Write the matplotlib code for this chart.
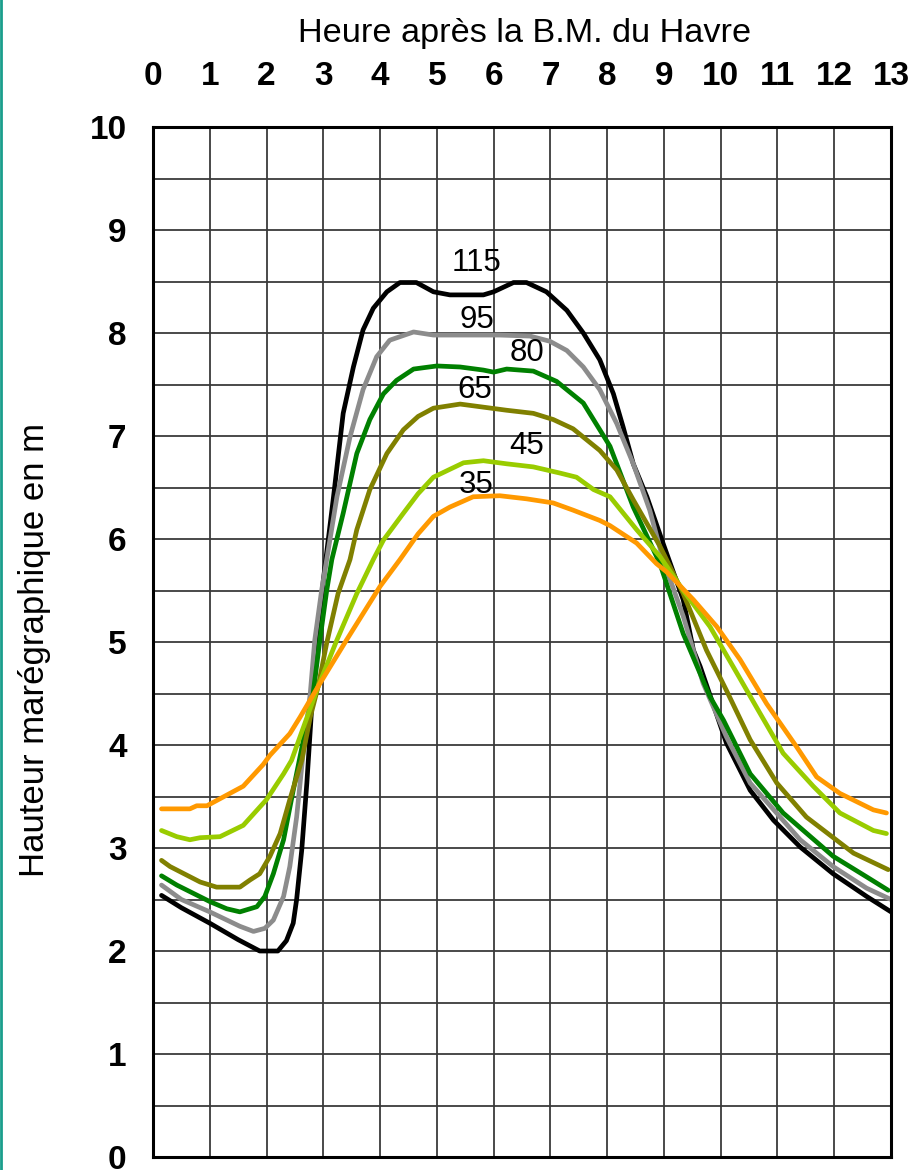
import matplotlib
matplotlib.use('Agg')
import matplotlib.pyplot as plt
from matplotlib.lines import Line2D

plt.rcParams['font.family'] = ['Liberation Sans', 'DejaVu Sans']

# coefficient de marée -> courbe hauteur (m) en fonction de l'heure après la B.M.
t115 = [0.15, 0.5, 1.0, 1.5, 1.88, 2.2, 2.35, 2.47, 2.53, 2.62, 2.71, 2.80, 2.90, 3.0, 3.18, 3.35, 3.53,
        3.70, 3.88, 4.12, 4.35, 4.64, 4.94, 5.23, 5.82, 6.0, 6.35, 6.58, 6.93, 7.29, 7.58, 7.87, 8.11,
        8.28, 8.46, 8.70, 8.99, 9.34, 9.52, 9.64, 10.1, 10.52, 10.93, 11.4, 11.98, 12.57, 13.0]
h115 = [2.54, 2.42, 2.27, 2.11, 2.0, 2.0, 2.1, 2.27, 2.5, 2.98, 3.63, 4.40, 4.95, 5.60, 6.41, 7.22, 7.67,
        8.03, 8.24, 8.40, 8.49, 8.49, 8.40, 8.37, 8.37, 8.40, 8.49, 8.49, 8.40, 8.22, 8.0, 7.74, 7.41,
        7.09, 6.73, 6.41, 5.95, 5.41, 4.92, 4.76, 4.02, 3.56, 3.27, 3.01, 2.75, 2.53, 2.38]

t95 = [0.15, 0.5, 1.0, 1.53, 1.77, 1.97, 2.12, 2.30, 2.41, 2.53, 2.65, 2.77, 2.85, 2.97, 3.03, 3.24, 3.47,
       3.70, 3.94, 4.17, 4.59, 4.94, 5.5, 6.11, 6.64, 6.99, 7.29, 7.58, 7.87, 8.17, 8.46, 8.75, 8.99,
       9.34, 9.69, 10.1, 10.52, 11.4, 11.98, 12.57, 13.0]
h95 = [2.64, 2.50, 2.38, 2.24, 2.19, 2.22, 2.30, 2.53, 2.82, 3.30, 3.95, 4.50, 5.02, 5.50, 5.70, 6.41, 6.99,
       7.45, 7.77, 7.93, 8.01, 7.98, 7.98, 7.98, 7.97, 7.92, 7.83, 7.67, 7.45, 7.12, 6.73, 6.28, 5.79,
       5.25, 4.60, 4.08, 3.63, 3.08, 2.82, 2.61, 2.50]

t80 = [0.15, 0.42, 1.0, 1.30, 1.53, 1.83, 1.97, 2.12, 2.30, 2.47, 2.65, 2.82, 2.94, 3.06, 3.15, 3.35, 3.59,
       3.82, 4.06, 4.29, 4.59, 5.0, 5.41, 5.82, 6.0, 6.23, 6.70, 7.11, 7.58, 8.05, 8.46, 8.93, 9.34,
       9.81, 10.05, 10.52, 11.10, 11.98, 12.57, 12.95]
h80 = [2.73, 2.64, 2.48, 2.41, 2.38, 2.43, 2.53, 2.75, 3.08, 3.56, 4.05, 4.50, 5.02, 5.50, 5.80, 6.25, 6.83,
       7.16, 7.41, 7.54, 7.65, 7.68, 7.67, 7.64, 7.62, 7.65, 7.63, 7.53, 7.32, 6.90, 6.31, 5.76, 5.08,
       4.47, 4.24, 3.72, 3.34, 2.92, 2.72, 2.59]

t65 = [0.15, 0.30, 0.83, 1.12, 1.53, 1.71, 1.88, 2.06, 2.24, 2.41, 2.62, 2.77, 2.91, 3.06, 3.26, 3.47, 3.59,
       3.82, 4.12, 4.41, 4.67, 4.94, 5.41, 5.82, 6.23, 6.70, 7.05, 7.40, 7.87, 8.17, 8.46, 8.93, 9.34,
       9.75, 10.11, 10.52, 10.99, 11.51, 12.34, 12.95]
h65 = [2.88, 2.82, 2.67, 2.62, 2.62, 2.69, 2.75, 2.92, 3.14, 3.47, 3.85, 4.27, 4.57, 4.99, 5.47, 5.80, 6.09,
       6.48, 6.83, 7.06, 7.19, 7.27, 7.31, 7.28, 7.25, 7.22, 7.16, 7.07, 6.86, 6.67, 6.38, 5.93, 5.47,
       4.92, 4.52, 4.05, 3.63, 3.30, 2.95, 2.79]

t45 = [0.15, 0.42, 0.65, 0.83, 1.18, 1.59, 2.0, 2.30, 2.44, 2.59, 2.91, 3.24, 3.59, 3.88, 4.06, 4.41, 4.67,
       4.94, 5.47, 5.82, 6.23, 6.70, 7.17, 7.46, 7.76, 8.05, 8.52, 8.93, 9.34, 9.81, 10.22, 10.69, 11.10,
       11.63, 12.10, 12.69, 12.92]
h45 = [3.17, 3.11, 3.08, 3.10, 3.11, 3.22, 3.47, 3.72, 3.85, 4.08, 4.57, 5.02, 5.47, 5.80, 5.99, 6.25, 6.44,
       6.60, 6.74, 6.76, 6.73, 6.70, 6.64, 6.60, 6.48, 6.41, 6.09, 5.83, 5.50, 5.15, 4.76, 4.31, 3.92,
       3.60, 3.34, 3.17, 3.14]

t35 = [0.15, 0.65, 0.77, 0.95, 1.59, 1.94, 2.06, 2.41, 2.59, 2.91, 3.41, 4.0, 4.35, 4.67, 4.94, 5.23, 5.64,
       6.11, 6.58, 7.05, 7.40, 7.87, 8.05, 8.52, 8.87, 9.05, 9.52, 9.93, 10.34, 10.81, 11.34, 11.69, 12.10,
       12.69, 12.92]
h35 = [3.38, 3.38, 3.41, 3.41, 3.60, 3.81, 3.90, 4.11, 4.27, 4.57, 5.02, 5.54, 5.80, 6.05, 6.22, 6.31, 6.41,
       6.42, 6.39, 6.35, 6.28, 6.18, 6.13, 5.96, 5.76, 5.68, 5.41, 5.15, 4.83, 4.40, 3.98, 3.69, 3.53,
       3.37, 3.34]

coefs = ['115', '95', '80', '65', '45', '35']
label_t = [5.69, 5.70, 6.58, 5.66, 6.58, 5.70]
label_h = [8.68, 8.13, 7.81, 7.45, 6.90, 6.52]

series = [(t115, h115, 'black'), (t95, h95, '#8c8c8c'), (t80, h80, '#008000'),
          (t65, h65, '#808000'), (t45, h45, '#99cc00'), (t35, h35, '#ff9900')]

fig = plt.figure(figsize=(9.12, 11.7), dpi=100)
ax = fig.add_axes([153 / 912, 1 - 1157 / 1170, 738 / 912, 1030 / 1170])

for t, h, c in series:
    ax.plot(t, h, color=c, lw=3.4, solid_joinstyle='round', solid_capstyle='round', zorder=3)

for txt, x, y in zip(coefs, label_t, label_h):
    ax.text(x, y, txt, ha='center', va='center', fontsize=22.5, zorder=4)

ax.set_xlim(0, 13)
ax.set_ylim(0, 10)
ax.set_xticks(range(0, 14))
ax.set_yticks(range(0, 11))
ax.set_yticks([i + 0.5 for i in range(10)], minor=True)
ax.grid(True, which='both', color='#3a3a3a', lw=1.3, zorder=1)

ax.xaxis.tick_top()
ax.tick_params(axis='both', which='both', length=0)
ax.tick_params(axis='x', pad=25, labelsize=24)
ax.tick_params(axis='y', pad=19, labelsize=24)
for lab in ax.get_xticklabels() + ax.get_yticklabels():
    lab.set_fontweight('bold')

for s in ax.spines.values():
    s.set_linewidth(2.2)
    s.set_color('black')
    s.set_zorder(5)

fig.text(525 / 912, 1 - 42 / 1170, 'Heure après la B.M. du Havre', ha='center', va='baseline', fontsize=24.7)
fig.text(35 / 912, 1 - 650 / 1170, 'Hauteur marégraphique en m', ha='center', va='center',
         rotation=90, fontsize=25)

# liseré à gauche
fig.add_artist(Line2D([1 / 912, 1 / 912], [0, 1], transform=fig.transFigure, color='#1a9e8c', lw=2))

fig.savefig('out.png', dpi=100)
